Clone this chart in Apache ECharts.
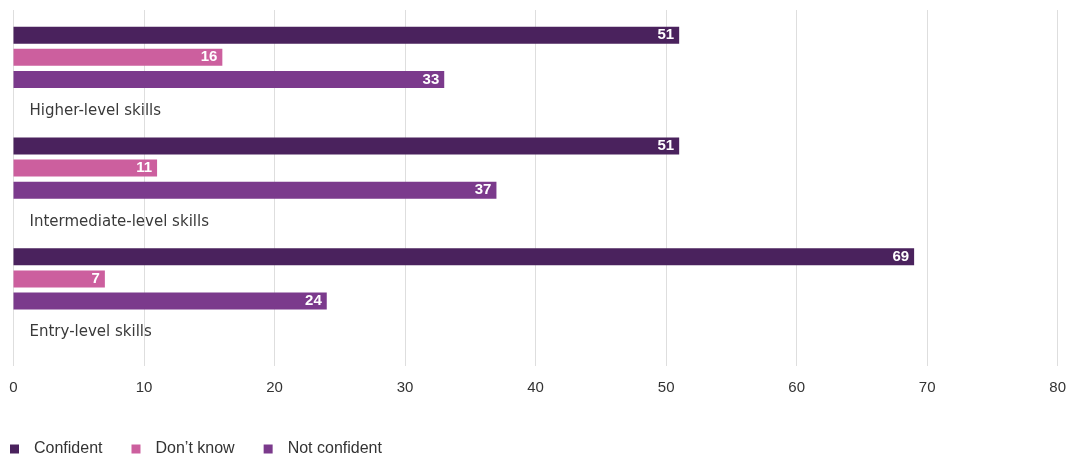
<!DOCTYPE html>
<html>
<head>
<meta charset="utf-8">
<script src="https://cdn.jsdelivr.net/npm/echarts@6/dist/echarts.min.js"></script>
<style>
html,body{margin:0;padding:0;background:#fff;}
#chart{width:1073px;height:457px;}
</style>
</head>
<body>
<div id="chart"></div>
<script>
const categories = ['Higher-level skills', 'Intermediate-level skills', 'Entry-level skills'];
const seriesNames = ['Confident', "Don’t know", 'Not confident'];
const confident = [51, 51, 69];
const dontKnow = [16, 11, 7];
const notConfident = [33, 37, 24];
const xTicks = [0, 10, 20, 30, 40, 50, 60, 70, 80];

const colors = ['#4a225d', '#cc5f9e', '#7b3a8c'];
const FONT = 'Liberation Sans';
const CAT_FONT = 'DejaVu Sans';

const chart = echarts.init(document.getElementById('chart'), null, {renderer: 'canvas'});

function barSeries(name, data, color) {
  return {
    name: name,
    type: 'bar',
    xAxisIndex: 0,
    yAxisIndex: 0,
    data: data,
    barWidth: 17,
    barGap: '30%',
    itemStyle: {color: color},
    label: {
      show: true,
      position: 'insideRight',
      distance: 5,
      color: '#fff',
      fontWeight: 'bold',
      fontSize: 15,
      fontFamily: FONT
    },
    emphasis: {disabled: true},
    animation: false
  };
}

const hiddenValueAxis = (gi) => ({
  type: 'value', gridIndex: gi, min: xTicks[0], max: xTicks[xTicks.length - 1], interval: 10,
  axisLine: {show: false}, axisTick: {show: false}, axisLabel: {show: false}, splitLine: {show: false}
});

chart.setOption({
  animation: false,
  textStyle: {fontFamily: FONT},
  legend: {
    left: 5,
    top: 436,
    icon: 'rect',
    itemWidth: 9,
    itemHeight: 9,
    itemGap: 29,
    data: seriesNames,
    textStyle: {fontSize: 16, color: '#333', fontFamily: FONT, padding: [0, 0, 0, 10]}
  },
  grid: [
    {left: 13.5, right: 15.3, top: 1.9, height: 332.4},
    {left: 13.5, right: 15.3, top: 10, height: 356},
    {left: 13.5, right: 15.3, top: 55.6, height: 332.4}
  ],
  xAxis: [
    hiddenValueAxis(0),
    {
      type: 'value', gridIndex: 1, min: xTicks[0], max: xTicks[xTicks.length - 1], interval: 10,
      axisLine: {show: false}, axisTick: {show: false},
      axisLabel: {show: true, color: '#333', fontSize: 15, margin: 14, fontFamily: FONT},
      splitLine: {show: true, lineStyle: {color: '#dedede', width: 1}}
    },
    hiddenValueAxis(2)
  ],
  yAxis: [
    {
      type: 'category', gridIndex: 0, data: categories, inverse: true,
      axisLine: {show: false}, axisTick: {show: false}, splitLine: {show: false},
      axisLabel: {show: false}
    },
    {
      type: 'value', gridIndex: 1, show: false
    },
    {
      type: 'category', gridIndex: 2, data: categories, inverse: true,
      axisLine: {show: false}, axisTick: {show: false}, splitLine: {show: false},
      axisLabel: {
        show: true, inside: true, margin: 16, color: '#3a3a3a', fontSize: 15,
        fontFamily: CAT_FONT, verticalAlign: 'middle'
      }
    }
  ],
  series: [
    barSeries(seriesNames[0], confident, colors[0]),
    barSeries(seriesNames[1], dontKnow, colors[1]),
    barSeries(seriesNames[2], notConfident, colors[2])
  ]
});
</script>
</body>
</html>
